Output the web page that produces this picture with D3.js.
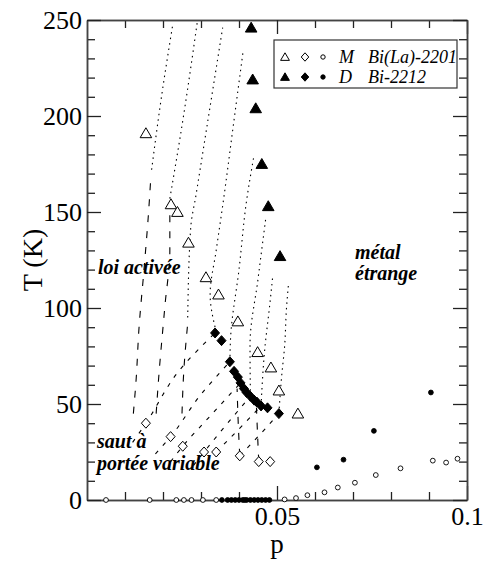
<!DOCTYPE html>
<html>
<head>
<meta charset="utf-8">
<script src="https://cdn.jsdelivr.net/npm/d3@7"></script>
<style>
  body { margin: 0; background: #fff; }
</style>
</head>
<body>
<div id="chart"></div>
<script>
// open triangles (M, Bi(La)-2201)
const triM = [[0.0155,191],[0.0221,154],[0.0238,150],[0.0267,134],[0.0313,116],[0.0346,107],
  [0.0397,93],[0.0449,77],[0.0484,69],[0.0505,57],[0.0555,45]];
// filled triangles (D, Bi-2212)
const triD = [[0.0432,246],[0.0436,219],[0.0444,204],[0.046,175],[0.0477,153],[0.0508,127]];
// open diamonds (M)
const diaM = [[0.0155,40],[0.022,33],[0.0252,28],[0.0308,25],[0.034,25],[0.0402,23],[0.0452,20],[0.0482,20]];
// filled diamonds (D)
const diaD = [[0.0337,87],[0.0354,83],[0.0376,72],[0.0387,67],[0.0397,64],[0.0404,61],[0.0413,58],
  [0.042,56],[0.043,54],[0.044,52],[0.0447,51],[0.0458,49],[0.0475,48],[0.0505,45]];
// open circles (M)
const cirM = [[0.005,0],[0.0165,0],[0.0235,0],[0.0255,0],[0.0275,0],[0.0305,0],[0.034,0],
  [0.052,0.3],[0.055,1],[0.058,2.5],[0.0625,4],[0.066,6.5],[0.0705,9],[0.076,13],[0.0825,16.5],
  [0.091,20.5],[0.0945,19.5],[0.0975,21.5]];
// filled circles (D)
const cirD = [[0.0355,0],[0.037,0],[0.038,0],[0.039,0],[0.040,0],[0.041,0],[0.0415,0],[0.042,0],
  [0.043,0],[0.044,0],[0.045,0],[0.046,0],[0.047,0],[0.048,0],
  [0.0605,17],[0.0675,21],[0.0755,36],[0.0905,56]];

// guide curves
const dotted = [
  [[0.0170,172],[0.0196,210],[0.0226,248]],
  [[0.0218,157],[0.0250,195],[0.0291,250]],
  [[0.0265,95],[0.0273,142],[0.0287,159],[0.0320,200],[0.0357,246]],
  [[0.0337,90],[0.0324,107],[0.0340,130],[0.0359,156],[0.0385,195],[0.0411,234]],
  [[0.0376,72],[0.0378,85],[0.0400,120],[0.0420,156],[0.0440,180]],
  [[0.0430,54],[0.0429,81],[0.0450,115],[0.0470,146]],
  [[0.0458,49],[0.0468,79],[0.0480,100],[0.0489,117]],
  [[0.0505,45],[0.0512,64],[0.0520,80],[0.0525,100],[0.0530,112]]
];
const longDash = [
  [[0.0167,165],[0.0161,147],[0.0150,120],[0.0137,90],[0.0129,62],[0.0122,45]],
  [[0.0218,150],[0.0218,130],[0.0205,101],[0.0188,62],[0.0182,45]],
  [[0.0265,92],[0.0255,68],[0.0250,45]],
  [[0.0402,23],[0.0398,40],[0.0395,58]],
  [[0.0452,20],[0.0448,38],[0.0446,48]]
];
const shortDash = [
  [[0.0337,87],[0.0245,68],[0.0155,40],[0.012,30]],
  [[0.0376,72],[0.030,55],[0.022,33],[0.018,24]],
  [[0.0404,61],[0.033,45],[0.0252,28],[0.022,20]],
  [[0.043,54],[0.037,40],[0.0308,25],[0.028,18]],
  [[0.0458,49],[0.040,37],[0.034,25]],
  [[0.0505,45],[0.045,33],[0.0402,23]]
];

const yMajor = [0, 50, 100, 150, 200, 250];
const xMajor = [0.05, 0.1];

const W = 484, H = 564;
const FONT = 'Liberation Serif';
const svg = d3.select('#chart').append('svg').attr('width', W).attr('height', H)
  .attr('font-family', FONT);

const x = d3.scaleLinear().domain([0, 0.1]).range([87, 467]);
const y = d3.scaleLinear().domain([0, 250]).range([500, 20]);

const xMinor = d3.range(1, 10).map(i => i / 100).filter(v => Math.abs(v - 0.05) > 1e-9);
const yMinor = d3.range(10, 250, 10).filter(v => v % 50 !== 0);

function styleAxis(g) {
  g.attr('font-family', FONT).attr('font-size', 26);
  g.selectAll('path').attr('stroke', '#444').attr('stroke-width', 1.5);
  g.selectAll('line').attr('stroke', '#222').attr('stroke-width', 1.3);
  g.selectAll('text').attr('fill', '#000').attr('font-family', FONT).attr('font-size', 26);
}

// bottom
svg.append('g').attr('transform', 'translate(0,500)')
  .call(d3.axisBottom(x).tickValues(xMinor).tickSize(-8).tickSizeOuter(0).tickFormat(''))
  .call(styleAxis);
svg.append('g').attr('transform', 'translate(0,500)')
  .call(d3.axisBottom(x).tickValues(xMajor).tickSize(-14).tickSizeOuter(0).tickPadding(7)
    .tickFormat(d => d === 0.1 ? '0.1' : '0.05'))
  .call(styleAxis);
// top
svg.append('g').attr('transform', 'translate(0,20)')
  .call(d3.axisTop(x).tickValues(xMinor).tickSize(-8).tickSizeOuter(0).tickFormat(''))
  .call(styleAxis);
svg.append('g').attr('transform', 'translate(0,20)')
  .call(d3.axisTop(x).tickValues(xMajor).tickSize(-14).tickSizeOuter(0).tickFormat(''))
  .call(styleAxis);
// left
svg.append('g').attr('transform', 'translate(87,0)')
  .call(d3.axisLeft(y).tickValues(yMinor).tickSize(-8).tickSizeOuter(0).tickFormat(''))
  .call(styleAxis);
svg.append('g').attr('transform', 'translate(87,0)')
  .call(d3.axisLeft(y).tickValues(yMajor).tickSize(-14).tickSizeOuter(0).tickPadding(5))
  .call(styleAxis);
// right
svg.append('g').attr('transform', 'translate(467,0)')
  .call(d3.axisRight(y).tickValues(yMinor).tickSize(-8).tickSizeOuter(0).tickFormat(''))
  .call(styleAxis);
svg.append('g').attr('transform', 'translate(467,0)')
  .call(d3.axisRight(y).tickValues(yMajor).tickSize(-14).tickSizeOuter(0).tickFormat(''))
  .call(styleAxis);

// axis titles
svg.append('text').attr('x', 277).attr('y', 553).attr('text-anchor', 'middle')
  .attr('font-size', 27).text('p');
svg.append('text').attr('transform', 'translate(42,260) rotate(-90)').attr('text-anchor', 'middle')
  .attr('font-size', 28).text('T (K)');

// curves
const line = d3.line().x(d => x(d[0])).y(d => y(d[1])).curve(d3.curveMonotoneY);
function drawCurves(set, dash) {
  svg.append('g').selectAll('path').data(set).enter().append('path')
    .attr('d', d => line(d.slice().sort((a, b) => a[1] - b[1])))
    .attr('fill', 'none').attr('stroke', '#000').attr('stroke-width', 1.1)
    .attr('stroke-dasharray', dash);
}
drawCurves(dotted, '1.5,4');
drawCurves(longDash, '7,9');
drawCurves(shortDash, '4,7');

// region labels
function label(t, px, py) {
  svg.append('text').attr('x', px).attr('y', py).attr('font-size', 20)
    .attr('font-style', 'italic').attr('font-weight', 'bold').text(t);
}
label('loi activée', 98, 274);
label('métal', 355, 259);
label('étrange', 355, 280);
label('saut à', 97, 448);
label('portée variable', 97, 470);

// symbols
const triPath = s => `M0,${-s}L${s * 1.05},${s * 0.8}L${-s * 1.05},${s * 0.8}Z`;
const diaPath = s => `M0,${-s}L${s * 0.9},0L0,${s}L${-s * 0.9},0Z`;
function drawPts(data, shape, filled) {
  const g = svg.append('g');
  g.selectAll('path').data(data).enter().append('path')
    .attr('transform', d => `translate(${x(d[0])},${y(d[1])})`)
    .attr('d', shape)
    .attr('fill', filled ? '#000' : '#fff')
    .attr('stroke', '#000').attr('stroke-width', 1);
}
drawPts(triM, triPath(5.5), false);
drawPts(triD, triPath(5.5), true);
drawPts(diaM, diaPath(5), false);
drawPts(diaD, diaPath(5), true);
function drawCirc(data, filled) {
  svg.append('g').selectAll('circle').data(data).enter().append('circle')
    .attr('cx', d => x(d[0])).attr('cy', d => y(d[1])).attr('r', 2.4)
    .attr('fill', filled ? '#000' : '#fff').attr('stroke', '#000').attr('stroke-width', 0.9);
}
drawCirc(cirM, false);
drawCirc(cirD, true);

// legend
const lg = svg.append('g');
lg.append('rect').attr('x', 274).attr('y', 40).attr('width', 183).attr('height', 48)
  .attr('fill', '#fff').attr('stroke', '#333').attr('stroke-width', 1.2);
const rows = [
  {yy: 57, filled: false, tag: 'M', name: 'Bi(La)-2201'},
  {yy: 77, filled: true, tag: 'D', name: 'Bi-2212'}
];
rows.forEach(r => {
  lg.append('path').attr('transform', `translate(285,${r.yy})`).attr('d', triPath(4.2))
    .attr('fill', r.filled ? '#000' : '#fff').attr('stroke', '#000');
  lg.append('path').attr('transform', `translate(305,${r.yy})`).attr('d', diaPath(4.2))
    .attr('fill', r.filled ? '#000' : '#fff').attr('stroke', '#000');
  lg.append('circle').attr('cx', 323).attr('cy', r.yy).attr('r', 2.2)
    .attr('fill', r.filled ? '#000' : '#fff').attr('stroke', '#000');
  lg.append('text').attr('x', 339).attr('y', r.yy + 6).attr('font-size', 18)
    .attr('font-style', 'italic').text(r.tag);
  lg.append('text').attr('x', 368).attr('y', r.yy + 6).attr('font-size', 18)
    .attr('font-style', 'italic').text(r.name);
});
</script>
</body>
</html>
